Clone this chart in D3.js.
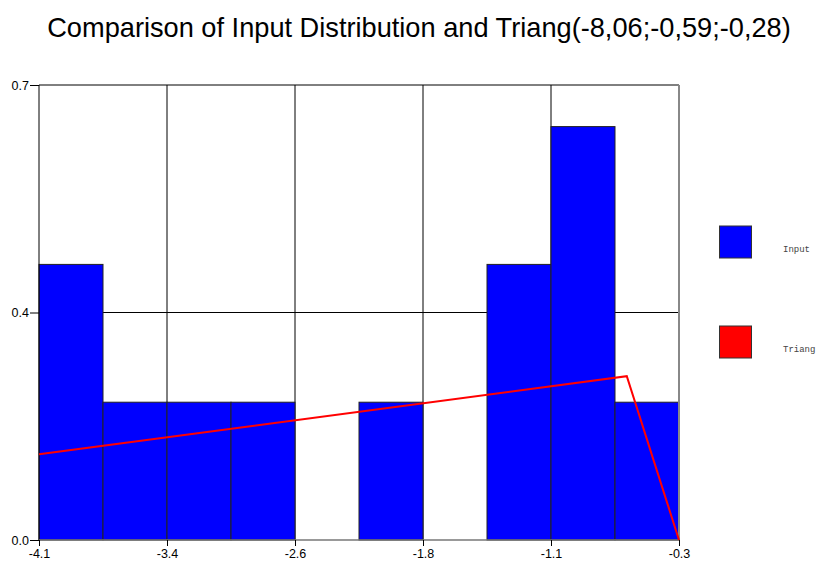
<!DOCTYPE html>
<html>
<head>
<meta charset="utf-8">
<script src="https://cdn.jsdelivr.net/npm/d3@7"></script>
<style>
  html, body { margin: 0; padding: 0; background: #fff; }
  svg { display: block; }
</style>
</head>
<body>
<svg id="chart" width="823" height="561"></svg>
<script>
// Histogram bins (lower edges) and the upper edge of the last bin
const binStarts = [-4.1, -3.72, -3.34, -2.96, -2.58, -2.2, -1.82, -1.44, -1.06, -0.68];
const binEnd = -0.3;
// Relative frequency density of the input sample in each bin
const inputDensity = [0.424, 0.212, 0.212, 0.212, 0, 0.212, 0, 0.424, 0.636, 0.212];
// Fitted triangular density drawn over the visible range
const triangX = [-4.1, -0.61, -0.3];
const triangY = [0.132, 0.252, 0];
// Axis ticks
const xTickValues = [-4.1, -3.34, -2.58, -1.82, -1.06, -0.3];
const xTickLabels = ["-4.1", "-3.4", "-2.6", "-1.8", "-1.1", "-0.3"];
const yTickValues = [0, 0.35, 0.7];
const yTickLabels = ["0.0", "0.4", "0.7"];
const seriesNames = ["Input", "Triang"];
const seriesColors = ["#0000ff", "#ff0000"];
const titleText = "Comparison of Input Distribution and Triang(-8,06;-0,59;-0,28)";

const svg = d3.select("#chart");
const plot = { left: 39, right: 679, top: 85, bottom: 540 };

const x = d3.scaleLinear().domain([-4.1, -0.3]).range([plot.left, plot.right]);
const y = d3.scaleLinear().domain([0, 0.7]).range([plot.bottom, plot.top]);

// Title
svg.append("text")
  .attr("x", 419).attr("y", 37)
  .attr("text-anchor", "middle")
  .attr("font-family", "Liberation Sans, Arial, sans-serif")
  .attr("font-size", 27.2)
  .attr("fill", "#000")
  .text(titleText);

// Grid lines (behind bars)
const grid = svg.append("g");
grid.selectAll("line.vg")
  .data(xTickValues.slice(1, -1))
  .join("line")
  .attr("x1", d => x(d)).attr("x2", d => x(d))
  .attr("y1", plot.top).attr("y2", plot.bottom)
  .attr("stroke", "#000").attr("stroke-width", 1);
grid.selectAll("line.hg")
  .data(yTickValues.slice(1, -1))
  .join("line")
  .attr("x1", plot.left).attr("x2", plot.right)
  .attr("y1", d => y(d)).attr("y2", d => y(d))
  .attr("stroke", "#000").attr("stroke-width", 1);

// Histogram bars
const bars = binStarts.map((s, i) => ({
  x0: s,
  x1: i < binStarts.length - 1 ? binStarts[i + 1] : binEnd,
  v: inputDensity[i]
})).filter(d => d.v > 0);

svg.append("g").selectAll("rect")
  .data(bars)
  .join("rect")
  .attr("x", d => x(d.x0))
  .attr("y", d => y(d.v))
  .attr("width", d => x(d.x1) - x(d.x0))
  .attr("height", d => y(0) - y(d.v))
  .attr("fill", seriesColors[0])
  .attr("stroke", "#222")
  .attr("stroke-width", 1);

// Plot frame: top and left black, right and bottom gray
svg.append("line")
  .attr("x1", plot.left).attr("x2", plot.right)
  .attr("y1", plot.top).attr("y2", plot.top)
  .attr("stroke", "#000").attr("stroke-width", 1);
svg.append("line")
  .attr("x1", plot.left).attr("x2", plot.left)
  .attr("y1", plot.top).attr("y2", plot.bottom)
  .attr("stroke", "#000").attr("stroke-width", 1);
svg.append("line")
  .attr("x1", plot.right).attr("x2", plot.right)
  .attr("y1", plot.top).attr("y2", plot.bottom)
  .attr("stroke", "#888").attr("stroke-width", 2);
svg.append("line")
  .attr("x1", plot.left).attr("x2", plot.right + 1)
  .attr("y1", plot.bottom).attr("y2", plot.bottom)
  .attr("stroke", "#777").attr("stroke-width", 1.5);

// Triangular density line
const pts = triangX.map((v, i) => [v, triangY[i]]);
svg.append("path")
  .datum(pts)
  .attr("d", d3.line().x(d => x(d[0])).y(d => y(d[1])))
  .attr("fill", "none")
  .attr("stroke", seriesColors[1])
  .attr("stroke-width", 2);

// Axes
const xAxis = d3.axisBottom(x)
  .tickValues(xTickValues)
  .tickFormat((d, i) => xTickLabels[i])
  .tickSize(6).tickPadding(3);
const gx = svg.append("g").attr("transform", `translate(0,${plot.bottom})`).call(xAxis);
gx.select(".domain").remove();
gx.selectAll(".tick line").attr("stroke", "#000");
gx.selectAll(".tick text")
  .attr("font-family", "Liberation Sans, Arial, sans-serif")
  .attr("font-size", 12.5).attr("fill", "#000");

const yAxis = d3.axisLeft(y)
  .tickValues(yTickValues)
  .tickFormat((d, i) => yTickLabels[i])
  .tickSize(9).tickPadding(1);
const gy = svg.append("g").attr("transform", `translate(${plot.left},0)`).call(yAxis);
gy.select(".domain").remove();
gy.selectAll(".tick line").attr("stroke", "#000");
gy.selectAll(".tick text")
  .attr("font-family", "Liberation Sans, Arial, sans-serif")
  .attr("font-size", 12.5).attr("fill", "#000");

// Legend
const legend = svg.append("g");
seriesNames.forEach((name, i) => {
  const top = 226 + i * 100;
  legend.append("rect")
    .attr("x", 719.5).attr("y", top)
    .attr("width", 32).attr("height", 32)
    .attr("fill", seriesColors[i])
    .attr("stroke", "#333").attr("stroke-width", 1);
  legend.append("text")
    .attr("x", 783).attr("y", top + 26)
    .attr("font-family", "Liberation Mono, Courier New, monospace")
    .attr("font-size", 9)
    .attr("fill", "#444")
    .text(name);
});
</script>
</body>
</html>
